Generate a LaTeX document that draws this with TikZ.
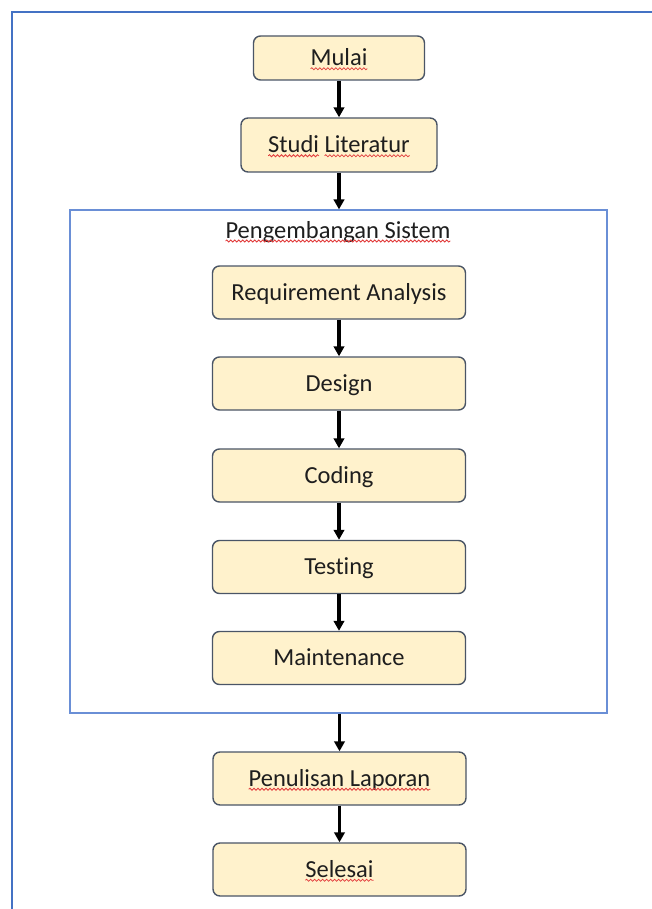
\documentclass[tikz,border=0pt]{standalone}
\usepackage{fontspec}
\setmainfont[Ligatures=NoCommon]{Carlito}
\usetikzlibrary{arrows.meta,decorations.pathmorphing}

\definecolor{boxfill}{HTML}{FFF2CC}
\definecolor{boxline}{HTML}{4A5566}
\definecolor{frameblue}{HTML}{4472C4}
\definecolor{innerblue}{HTML}{6A8FD6}
\definecolor{spellred}{HTML}{E23B3B}
\definecolor{inktext}{HTML}{1E1E1E}

\newcommand\boxfont{\fontsize{24.5}{29}\selectfont}

% widths of the underlined words, measured before the picture starts
\newlength\wMulai
\newlength\wStudi
\newlength\wStudiSp
\newlength\wLiteratur
\newlength\wStudiLit
\newlength\wPengembangan
\newlength\wPenulisan
\newlength\wSelesai

% wavy underline under a centred text: node, full width, offset of the word, width of the word
\newcommand\wavypart[4]{%
  \draw[squiggle] ([xshift={-0.5*#2+#3}, yshift=-3pt]#1.base)
     -- ([xshift={-0.5*#2+#3+#4}, yshift=-3pt]#1.base);}
\newcommand\wavyall[2]{\wavypart{#1}{#2}{0pt}{#2}}

\tikzset{
  stepbox/.style={draw=boxline, line width=1.4pt, fill=boxfill, rounded corners=7pt,
    minimum height=53pt, minimum width=253pt, inner sep=0pt, font=\boxfont,
    text=inktext, text height=15.5pt, text depth=0pt},
  flow/.style={-{Triangle[width=10.5pt,length=10pt]}, line width=3.4pt, black},
  squiggle/.style={draw=spellred, line width=0.8pt, decorate,
    decoration={snake, amplitude=1pt, segment length=4pt}},
  groupframe/.style={draw=innerblue, line width=1.2pt, inner sep=0pt},
}

\begin{document}
\settowidth\wMulai{\boxfont Mulai}%
\settowidth\wStudi{\boxfont Studi}%
\settowidth\wStudiSp{\boxfont Studi\ }%
\settowidth\wLiteratur{\boxfont Literatur}%
\settowidth\wStudiLit{\boxfont Studi Literatur}%
\settowidth\wPengembangan{\boxfont Pengembangan Sistem}%
\settowidth\wPenulisan{\boxfont Penulisan Laporan}%
\settowidth\wSelesai{\boxfont Selesai}%
\begin{tikzpicture}[x=1pt, y=-1pt]
\useasboundingbox[fill=white] (0,0) rectangle (652,909);

% page frame
\draw[frameblue, line width=1.3pt] (12,909) -- (12,12) -- (652,12);

% system development group
\node[groupframe, minimum width=537pt, minimum height=503pt] (sys) at (338.5,461.5) {};
\node[font=\boxfont, text=inktext, anchor=base, inner sep=0pt] (systitle) at (338,238) {Pengembangan Sistem};

% steps
\node[stepbox, minimum width=171pt, minimum height=44pt] (mulai) at (339,58) {Mulai};
\node[stepbox, minimum width=196pt, minimum height=54pt] (studi) at (339,145) {Studi Literatur};
\node[stepbox] (req) at (339,292.5) {Requirement Analysis};
\node[stepbox] (design) at (339,383.5) {Design};
\node[stepbox] (coding) at (339,475.5) {Coding};
\node[stepbox] (testing) at (339,567) {Testing};
\node[stepbox] (maint) at (339,658) {Maintenance};
\node[stepbox] (tulis) at (339.5,778.5) {Penulisan Laporan};
\node[stepbox] (selesai) at (339.5,869.5) {Selesai};

% connectors
\draw[flow] (mulai) -- (studi);
\draw[flow] (studi.south) -- (studi.south |- sys.north);
\draw[flow] (req) -- (design);
\draw[flow] (design) -- (coding);
\draw[flow] (coding) -- (testing);
\draw[flow] (testing) -- (maint);
\draw[flow] (tulis.north |- sys.south) -- (tulis.north);
\draw[flow] (tulis) -- (selesai);

% spelling marks under the Indonesian words
\wavyall{mulai}{\wMulai}
\wavypart{studi}{\wStudiLit}{0pt}{\wStudi}
\wavypart{studi}{\wStudiLit}{\wStudiSp}{\wLiteratur}
\wavyall{systitle}{\wPengembangan}
\wavyall{tulis}{\wPenulisan}
\wavyall{selesai}{\wSelesai}
\end{tikzpicture}
\end{document}
